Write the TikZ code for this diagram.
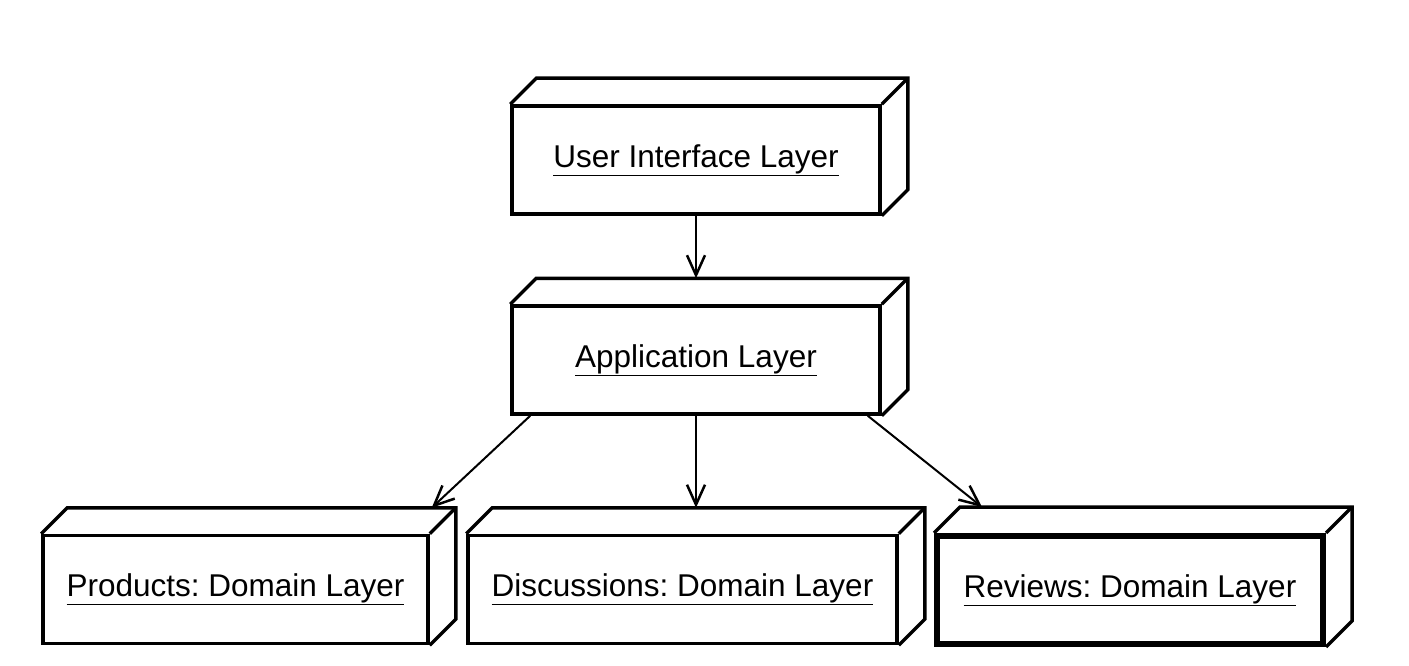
\documentclass[tikz,border=0pt]{standalone}
\usepackage{fontspec}
\setmainfont{Liberation Sans}
\frenchspacing
\usetikzlibrary{arrows.meta}

\tikzset{
  layerbox/.style={draw, line width=3.5pt, inner sep=0pt, minimum height=108pt,
    font=\fontsize{31.5}{36}\selectfont},
  boxline/.style={line width=3.5pt, line join=miter},
  uses/.style={line width=2.5pt, -{Straight Barb[length=20pt,width=18pt,line width=2.5pt]}}
}

\begin{document}
\begin{tikzpicture}[x=1pt, y=-1pt]
    \useasboundingbox (0,0) rectangle (1409,666);

    % layers
    \node[layerbox, minimum width=368pt] (ui) at (696,160) {\underline{User Interface Layer}};
    \node[layerbox, minimum width=368pt] (app) at (696,360) {\underline{Application Layer}};

    \node[layerbox, minimum width=385pt] (prod) at (235.5,589.5) {\underline{Products: Domain Layer}};
    \node[layerbox, minimum width=429pt] (disc) at (682.5,589.5) {\underline{Discussions: Domain Layer}};
    \node[layerbox, minimum width=386pt, line width=6pt] (rev) at (1130,590) {\underline{Reviews: Domain Layer}};

    % depth of the boxes
    \foreach \n in {ui,app,prod,disc,rev}
    {
        \draw[boxline] (\n.north west) -- ([shift={(26,-26)}]\n.north west)
            -- ([shift={(26,-26)}]\n.north east) -- ([shift={(26,-26)}]\n.south east)
            -- (\n.south east);
        \draw[boxline] (\n.north east) -- ([shift={(26,-26)}]\n.north east);
    }

    % back edges the arrows end on
    \coordinate (app-back) at ([yshift=26pt]app.north);
    \coordinate (prod-back) at ([shift={(2,-26)}]prod.north east);
    \coordinate (disc-back) at ([shift={(26,-26)}]disc.north west);
    \coordinate (rev-back) at ([shift={(48,-26)}]rev.north west);

    % dependencies
    \draw[uses] (ui.south) -- (app-back);
    \draw[uses] (app.south) -- (app.south |- disc-back);
    \draw[uses, line width=2pt] ([xshift=20pt]app.south west) -- (prod-back);
    \draw[uses, line width=2pt] ([xshift=-14pt]app.south east) -- (rev-back);

\end{tikzpicture}
\end{document}
